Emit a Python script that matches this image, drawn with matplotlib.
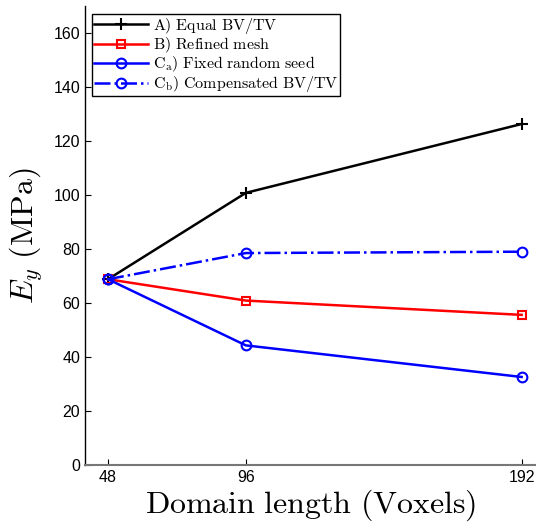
import matplotlib
matplotlib.use("Agg")
import matplotlib.pyplot as plt

plt.rcParams['mathtext.fontset'] = 'cm'
plt.rcParams['font.family'] = ['Liberation Sans', 'DejaVu Sans']

x = [48, 96, 192]
xticklabels = ['48', '96', '192']
yticks = [0, 20, 40, 60, 80, 100, 120, 140, 160]
series_A = [68.8, 100.8, 126.3]
series_B = [68.8, 60.9, 55.6]
series_Ca = [68.8, 44.3, 32.6]
series_Cb = [68.8, 78.5, 79.0]

labels = [r'$\mathrm{A)\ Equal\ BV/TV}$',
          r'$\mathrm{B)\ Refined\ mesh}$',
          r'$\mathrm{C_{a})\ Fixed\ random\ seed}$',
          r'$\mathrm{C_{b})\ Compensated\ BV/TV}$']

fig = plt.figure(figsize=(5.36, 5.27), dpi=100)
ax = fig.add_axes([85/536, 1-465/527, 1-85/536, (465-6)/527])

ax.plot(x, series_A, color='black', lw=1.8, marker='+', ms=8, mew=1.5, label=labels[0])
ax.plot(x, series_B, color='red', lw=1.8, marker='s', ms=6, mfc='none', mew=1.5, label=labels[1])
ax.plot(x, series_Ca, color='blue', lw=1.8, marker='o', ms=7, mfc='none', mew=1.5, label=labels[2])
ax.plot(x, series_Cb, color='blue', lw=1.8, ls='-.', marker='o', ms=7, mfc='none', mew=1.5, label=labels[3])

ax.set_xlim(40, 197)
ax.set_ylim(0, 170)
ax.set_xticks(x)
ax.set_xticklabels(xticklabels)
ax.set_yticks(yticks)
ax.tick_params(direction='in', length=4, labelsize=11.5, width=0.8)
ax.spines['top'].set_visible(False)
ax.spines['right'].set_visible(False)
ax.spines['bottom'].set_color('#777777')
ax.spines['bottom'].set_linewidth(1.5)
ax.spines['left'].set_linewidth(1.0)

ax.set_xlabel(r'$\mathrm{Domain\ length\ (Voxels)}$', fontsize=23, labelpad=2)
ax.set_ylabel(r'$E_y\ \mathrm{(MPa)}$', fontsize=23, labelpad=6)

leg = ax.legend(loc='upper left', bbox_to_anchor=(0.015, 0.983), fontsize=11.5,
                frameon=True, fancybox=False, edgecolor='black', framealpha=1,
                handlelength=3.4, handleheight=0.6, borderpad=0.12, labelspacing=0.0,
                handletextpad=0.3, borderaxespad=0.0)
leg.get_frame().set_linewidth(1.0)

fig.savefig('out.png', dpi=100)
